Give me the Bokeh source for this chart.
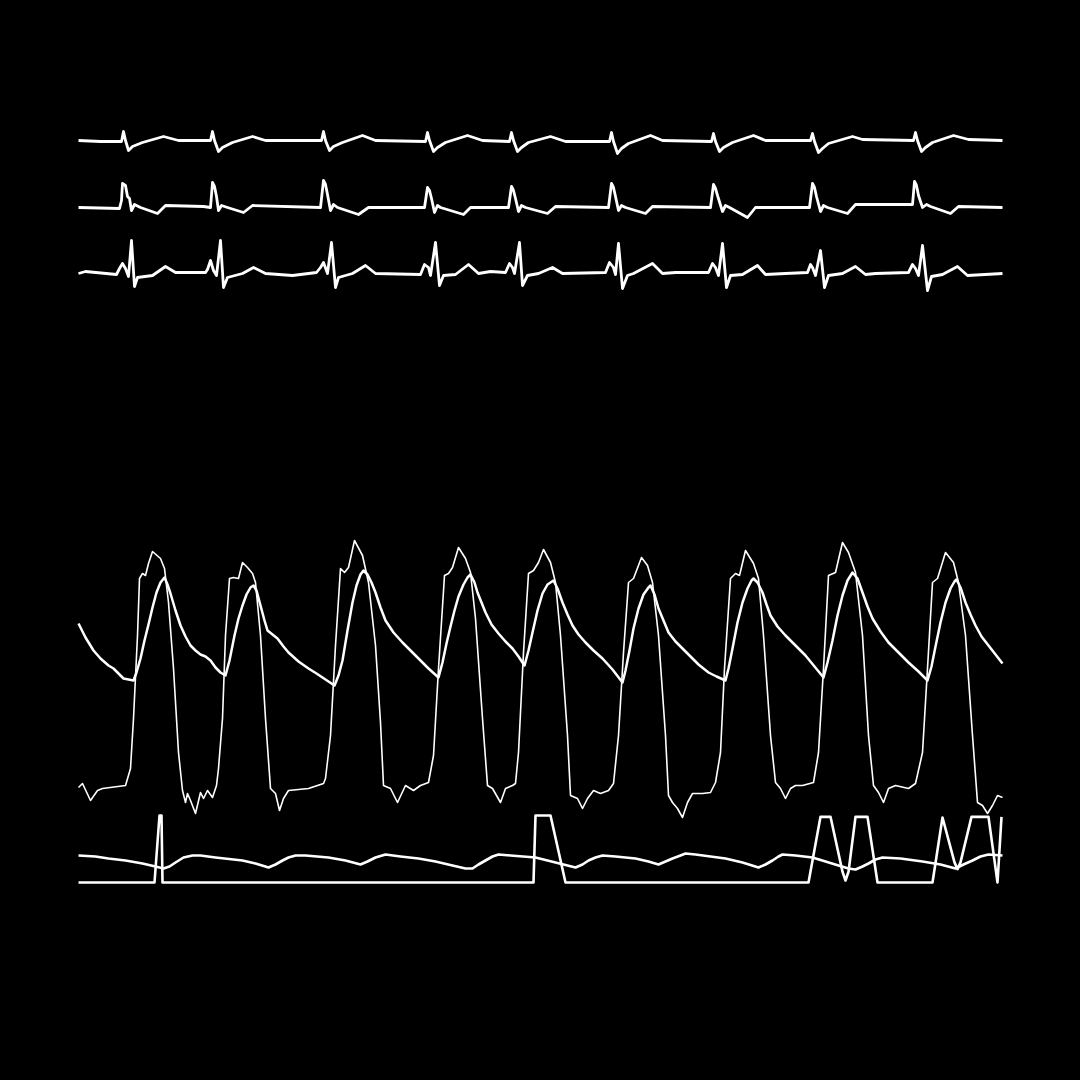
from bokeh.plotting import figure
from bokeh.models import Range1d
from bokeh.embed import file_html
from bokeh.resources import INLINE

# ---------------- data (time in s, values in signal units) ----------------
ecg1_t = [0.00, 0.22, 0.43, 0.45, 0.47, 0.50, 0.54, 0.64, 0.85, 1.00, 1.32, 1.34, 1.36, 1.40, 1.44, 1.54, 1.74, 1.87,
          2.43, 2.45, 2.47, 2.51, 2.55, 2.64, 2.84, 2.97, 3.47, 3.49, 3.51, 3.55, 3.59, 3.67, 3.89, 4.04,
          4.31, 4.33, 4.35, 4.39, 4.43, 4.50, 4.72, 4.87, 5.31, 5.33, 5.35, 5.39, 5.43, 5.50, 5.72, 5.84,
          6.33, 6.35, 6.37, 6.41, 6.45, 6.54, 6.75, 6.87, 7.32, 7.34, 7.36, 7.40, 7.44, 7.50, 7.74, 7.84,
          8.35, 8.37, 8.39, 8.43, 8.47, 8.54, 8.75, 8.90, 9.24]
ecg1_mv = [0.00, -0.02, -0.02, 0.18, 0.00, -0.20, -0.12, -0.04, 0.08, 0.00, 0.00, 0.18, 0.00, -0.22, -0.14, -0.04, 0.08, 0.00,
           0.00, 0.18, 0.00, -0.20, -0.12, -0.04, 0.10, 0.00, -0.02, 0.16, 0.00, -0.22, -0.14, -0.04, 0.10, 0.00,
           -0.02, 0.16, 0.00, -0.22, -0.14, -0.04, 0.08, -0.02, -0.02, 0.16, -0.02, -0.26, -0.16, -0.06, 0.10, 0.00,
           -0.02, 0.14, -0.02, -0.22, -0.14, -0.04, 0.10, 0.00, 0.00, 0.14, -0.02, -0.24, -0.16, -0.06, 0.08, 0.02,
           0.00, 0.16, 0.00, -0.22, -0.14, -0.04, 0.10, 0.02, 0.00]

ecg2_t = [0.00, 0.41, 0.43, 0.44, 0.47, 0.49, 0.51, 0.53, 0.56, 0.62, 0.79, 0.87, 1.25,
          1.32, 1.34, 1.36, 1.38, 1.40, 1.43, 1.49, 1.65, 1.74,
          2.42, 2.45, 2.47, 2.49, 2.52, 2.55, 2.59, 2.80, 2.90,
          3.46, 3.49, 3.51, 3.53, 3.56, 3.59, 3.62, 3.85, 3.92,
          4.30, 4.33, 4.35, 4.37, 4.40, 4.43, 4.47, 4.69, 4.77,
          5.30, 5.33, 5.35, 5.37, 5.40, 5.43, 5.47, 5.67, 5.74,
          6.32, 6.35, 6.37, 6.39, 6.44, 6.47, 6.51, 6.69, 6.77,
          7.31, 7.34, 7.36, 7.38, 7.42, 7.45, 7.49, 7.69, 7.77, 8.30,
          8.34, 8.36, 8.38, 8.40, 8.44, 8.48, 8.52, 8.72, 8.80, 9.24]
ecg2_mv = [0.00, -0.02, 0.14, 0.48, 0.44, 0.22, 0.18, -0.06, 0.06, 0.00, -0.12, 0.04, 0.02,
           0.00, 0.50, 0.42, 0.22, -0.06, 0.04, 0.00, -0.10, 0.04,
           0.00, 0.54, 0.46, 0.26, -0.06, 0.06, 0.00, -0.14, 0.00,
           0.00, 0.40, 0.34, 0.18, -0.10, 0.04, 0.00, -0.14, 0.00,
           0.00, 0.42, 0.34, 0.18, -0.08, 0.04, 0.00, -0.12, 0.02,
           0.00, 0.48, 0.40, 0.22, -0.06, 0.04, 0.00, -0.12, 0.02,
           0.00, 0.46, 0.38, 0.24, -0.08, 0.04, 0.00, -0.20, 0.00,
           0.00, 0.48, 0.40, 0.22, -0.08, 0.04, 0.00, -0.12, 0.06, 0.06,
           0.06, 0.52, 0.44, 0.24, 0.00, 0.06, 0.02, -0.12, 0.02, 0.00]

ecg3_t = [0.00, 0.07, 0.38, 0.41, 0.44, 0.47, 0.50, 0.53, 0.56, 0.59, 0.74, 0.87, 0.97, 1.27,
          1.29, 1.32, 1.35, 1.38, 1.42, 1.45, 1.49, 1.64, 1.75, 1.87, 2.14, 2.38,
          2.42, 2.45, 2.49, 2.53, 2.57, 2.60, 2.74, 2.87, 2.97, 3.42,
          3.46, 3.50, 3.52, 3.57, 3.61, 3.65, 3.77, 3.90, 4.00, 4.12, 4.27,
          4.31, 4.34, 4.36, 4.41, 4.44, 4.49, 4.60, 4.74, 4.84, 5.27,
          5.31, 5.35, 5.37, 5.40, 5.44, 5.49, 5.55, 5.74, 5.84, 5.97, 6.30,
          6.34, 6.37, 6.40, 6.44, 6.48, 6.52, 6.64, 6.79, 6.87, 7.07, 7.29,
          7.32, 7.34, 7.37, 7.42, 7.46, 7.50, 7.64, 7.77, 7.87, 7.97, 8.30,
          8.34, 8.37, 8.40, 8.44, 8.49, 8.53, 8.64, 8.79, 8.89, 9.24]
ecg3_mv = [0.00, 0.04, -0.02, 0.10, 0.20, 0.10, -0.06, 0.66, -0.26, -0.08, -0.04, 0.14, 0.02, 0.02,
           0.08, 0.26, 0.06, -0.04, 0.66, -0.28, -0.08, 0.00, 0.12, 0.00, -0.04, 0.02,
           0.12, 0.22, 0.00, 0.62, -0.28, -0.08, 0.00, 0.16, 0.00, -0.02,
           0.18, 0.12, -0.04, 0.62, -0.24, -0.04, -0.02, 0.18, 0.00, 0.04, 0.02,
           0.20, 0.12, 0.00, 0.62, -0.24, -0.04, 0.00, 0.12, 0.00, 0.02,
           0.22, 0.12, -0.02, 0.60, -0.30, -0.04, 0.00, 0.20, 0.00, 0.02, 0.02,
           0.20, 0.12, -0.04, 0.60, -0.28, -0.04, -0.02, 0.16, -0.02, 0.00, 0.02,
           0.18, 0.12, -0.04, 0.46, -0.28, -0.04, 0.00, 0.14, -0.02, 0.00, 0.02,
           0.18, 0.10, -0.04, 0.56, -0.34, -0.06, -0.02, 0.14, -0.04, 0.00]

aop_t = [0.00, 0.07, 0.15, 0.22, 0.30, 0.35, 0.39, 0.45, 0.50, 0.55,
         0.58, 0.62, 0.66, 0.70, 0.74, 0.78, 0.82, 0.86, 0.89, 0.92, 0.97, 1.02, 1.07, 1.12, 1.17, 1.22, 1.27, 1.32, 1.37, 1.42, 1.47,
         1.51, 1.56, 1.60, 1.64, 1.68, 1.72, 1.75, 1.78, 1.82, 1.86, 1.89, 1.94, 1.99, 2.05, 2.10, 2.20, 2.30, 2.38, 2.44, 2.50, 2.56,
         2.60, 2.64, 2.69, 2.74, 2.78, 2.82, 2.85, 2.89, 2.93, 2.97, 3.02, 3.07, 3.15, 3.24, 3.32, 3.40, 3.50, 3.60,
         3.64, 3.68, 3.72, 3.76, 3.80, 3.85, 3.89, 3.92, 3.96, 3.99, 4.03, 4.07, 4.13, 4.20, 4.27, 4.34, 4.40, 4.46,
         4.50, 4.54, 4.59, 4.64, 4.69, 4.75, 4.79, 4.84, 4.89, 4.94, 5.00, 5.07, 5.15, 5.24, 5.34, 5.44,
         5.47, 5.51, 5.55, 5.60, 5.65, 5.70, 5.72, 5.76, 5.80, 5.85, 5.90, 5.97, 6.04, 6.12, 6.20, 6.30, 6.38, 6.47,
         6.50, 6.54, 6.59, 6.64, 6.69, 6.73, 6.75, 6.79, 6.84, 6.88, 6.92, 6.99, 7.07, 7.17, 7.27, 7.36, 7.45,
         7.49, 7.54, 7.59, 7.64, 7.69, 7.74, 7.79, 7.84, 7.89, 7.94, 8.02, 8.10, 8.20, 8.30, 8.40, 8.49,
         8.53, 8.57, 8.62, 8.67, 8.72, 8.76, 8.78, 8.82, 8.87, 8.92, 8.97, 9.03, 9.10, 9.17, 9.24]
aop_mmhg = [88.5, 81.5, 75.0, 71.0, 67.5, 66.0, 64.0, 61.0, 60.5, 60.0,
            64.0, 71.0, 80.0, 88.0, 96.5, 104.0, 109.0, 111.5, 108.0, 103.5, 95.0, 87.5, 82.0, 77.5, 75.0, 73.0, 72.0, 70.0, 66.5, 64.0, 62.5,
            70.0, 82.5, 91.0, 97.5, 103.0, 106.5, 107.5, 105.0, 97.5, 90.0, 85.0, 83.0, 81.0, 77.0, 74.0, 69.5, 66.0, 63.5, 61.5, 59.5, 57.5,
            62.5, 70.0, 85.0, 99.0, 107.5, 113.0, 115.0, 113.0, 109.0, 104.0, 96.5, 90.0, 84.0, 79.0, 75.0, 71.0, 66.0, 61.5,
            69.0, 78.5, 87.0, 95.0, 102.0, 108.0, 111.5, 113.0, 109.0, 104.0, 99.0, 94.0, 88.0, 83.5, 79.5, 76.0, 72.0, 67.5,
            75.0, 84.0, 95.0, 103.5, 108.0, 110.0, 106.0, 99.0, 93.0, 87.5, 83.0, 79.0, 75.0, 71.0, 65.5, 59.0,
            65.0, 75.0, 86.0, 96.0, 103.0, 106.5, 107.5, 103.0, 96.0, 90.0, 84.0, 79.5, 76.0, 72.0, 68.0, 64.0, 62.0, 60.0,
            66.0, 76.0, 89.0, 99.0, 106.0, 110.0, 111.0, 109.0, 104.0, 98.0, 92.5, 87.0, 82.5, 77.5, 72.5, 67.0, 61.5,
            69.0, 80.0, 92.5, 102.5, 110.0, 114.0, 111.0, 104.0, 97.0, 91.0, 84.5, 79.0, 74.0, 69.0, 64.5, 60.0,
            67.0, 77.0, 89.0, 99.0, 106.0, 109.5, 110.5, 106.5, 99.0, 93.0, 87.5, 82.0, 77.5, 73.0, 68.5]

lvp_t = [0.00, 0.04, 0.12, 0.19, 0.24, 0.47, 0.52, 0.55, 0.59, 0.61, 0.64, 0.67, 0.70, 0.74, 0.82, 0.86, 0.90, 0.95, 1.00,
         1.04, 1.07, 1.09, 1.12, 1.17, 1.22, 1.25, 1.29, 1.34, 1.38,
         1.40, 1.44, 1.47, 1.51, 1.55, 1.60, 1.64, 1.69, 1.74, 1.77, 1.82, 1.87, 1.92, 1.97, 2.01, 2.05, 2.10, 2.30, 2.45,
         2.47, 2.52, 2.57, 2.62, 2.66, 2.70, 2.76, 2.84, 2.90, 2.97, 3.02, 3.05, 3.12, 3.19, 3.27, 3.35, 3.42, 3.50,
         3.55, 3.60, 3.66, 3.70, 3.74, 3.80, 3.87, 3.92, 3.97, 4.04, 4.09, 4.14, 4.22, 4.27, 4.34, 4.37,
         4.40, 4.45, 4.50, 4.55, 4.60, 4.65, 4.72, 4.77, 4.82, 4.89, 4.92, 4.99, 5.04, 5.09, 5.15, 5.22, 5.30, 5.35,
         5.40, 5.45, 5.50, 5.55, 5.63, 5.69, 5.74, 5.80, 5.87, 5.90, 5.94, 5.99, 6.04, 6.09, 6.14, 6.24, 6.32, 6.37,
         6.42, 6.46, 6.52, 6.57, 6.61, 6.67, 6.75, 6.80, 6.85, 6.92, 6.97, 7.02, 7.07, 7.12, 7.17, 7.24, 7.35,
         7.40, 7.45, 7.50, 7.57, 7.64, 7.70, 7.77, 7.84, 7.90, 7.95, 8.00, 8.05, 8.10, 8.17, 8.30, 8.37,
         8.44, 8.49, 8.54, 8.59, 8.67, 8.75, 8.80, 8.87, 8.94, 8.99, 9.04, 9.09, 9.14, 9.19, 9.24]
lvp_mmhg = [6.5, 8.5, 0.0, 5.0, 6.0, 7.5, 16.0, 41.0, 82.5, 111.0, 113.5, 112.5, 118.5, 124.5, 121.0, 116.0, 99.0, 66.0, 24.0,
            5.0, -1.0, 3.5, 0.0, -6.5, 4.0, 1.0, 5.0, 1.5, 7.5,
            16.0, 41.0, 82.5, 111.0, 111.5, 111.0, 119.0, 116.5, 113.5, 109.0, 82.5, 41.0, 6.0, 3.5, -5.0, 1.0, 5.0, 6.0, 8.5,
            11.0, 32.5, 77.5, 116.0, 114.0, 116.5, 130.0, 122.5, 109.0, 77.5, 39.0, 7.5, 6.0, -1.0, 7.5, 5.0, 7.5, 9.0,
            22.5, 66.0, 112.5, 113.5, 116.5, 126.5, 121.0, 114.0, 91.0, 41.0, 7.5, 6.0, -1.0, 6.0, 7.5, 8.5,
            24.0, 74.0, 113.5, 115.0, 119.0, 125.5, 119.0, 109.0, 82.5, 32.5, 2.5, 1.0, -4.0, 1.0, 5.0, 3.5, 5.0, 8.5,
            32.5, 74.0, 109.0, 111.0, 121.5, 117.5, 109.0, 82.5, 32.5, 2.5, -1.0, -4.0, -8.5, -1.0, 3.5, 3.5, 4.0, 9.0,
            24.0, 66.0, 111.0, 113.5, 112.5, 125.0, 118.5, 111.0, 82.5, 32.5, 9.0, 6.0, 1.0, 6.0, 7.5, 7.5, 9.0,
            24.0, 66.0, 112.5, 114.0, 129.0, 124.0, 114.0, 82.5, 32.5, 7.5, 4.0, -1.0, 6.0, 7.5, 6.0, 8.5,
            24.0, 66.0, 109.0, 111.0, 124.0, 119.0, 109.0, 82.5, 32.5, -1.0, -2.5, -6.5, -2.5, 2.5, 1.5]

resp_t = [0.00, 0.17, 0.30, 0.47, 0.64, 0.77, 0.85, 0.91, 0.97, 1.05, 1.14, 1.22, 1.37, 1.64, 1.77, 1.90, 1.97, 2.04,
          2.10, 2.17, 2.27, 2.50, 2.67, 2.82, 2.89, 2.97, 3.07, 3.22, 3.40, 3.57, 3.74, 3.87, 3.94, 4.00, 4.07, 4.14,
          4.20, 4.32, 4.57, 4.77, 4.97, 5.04, 5.10, 5.17, 5.24, 5.37, 5.57, 5.70, 5.80, 5.87, 5.94, 6.02, 6.07, 6.17,
          6.32, 6.47, 6.64, 6.80, 6.87, 6.94, 7.00, 7.04, 7.17, 7.34, 7.47, 7.60, 7.70, 7.77, 7.84, 7.90, 7.97, 8.04,
          8.22, 8.44, 8.62, 8.77, 8.85, 8.94, 9.02, 9.10, 9.24]
resp_au = [1.5, 1.4, 1.2, 1.0, 0.7, 0.4, 0.2, 0.4, 0.8, 1.3, 1.5, 1.5, 1.3, 1.0, 0.7, 0.3, 0.6, 1.0,
           1.3, 1.5, 1.5, 1.3, 1.0, 0.6, 0.9, 1.3, 1.6, 1.4, 1.2, 0.9, 0.5, 0.2, 0.2, 0.6, 1.0, 1.4,
           1.6, 1.5, 1.3, 0.8, 0.3, 0.6, 1.0, 1.3, 1.5, 1.4, 1.2, 0.9, 0.6, 0.9, 1.2, 1.5, 1.7, 1.6,
           1.4, 1.2, 0.8, 0.3, 0.6, 1.0, 1.4, 1.6, 1.5, 1.3, 0.9, 0.5, 0.2, 0.1, 0.4, 0.7, 1.1, 1.3,
           1.2, 0.9, 0.6, 0.2, 0.6, 1.0, 1.4, 1.6, 1.5]

stim_t = [0.00, 0.76, 0.81, 0.83, 0.84, 4.55, 4.57, 4.72, 4.87, 7.30, 7.42, 7.52, 7.64, 7.67, 7.70, 7.77, 7.89, 7.99,
          8.54, 8.64, 8.76, 8.79, 8.82, 8.93, 9.10, 9.19, 9.23]
stim_v = [0.0, 0.0, 5.0, 5.0, 0.0, 0.0, 5.0, 5.0, 0.0, 0.0, 4.9, 4.9, 0.8, 0.15, 0.8, 4.9, 4.9, 0.0,
          0.0, 4.85, 1.5, 1.0, 1.5, 4.9, 4.9, 0.0, 4.9]

# ---------------- layout ----------------
W = H = 1064
PAGE0 = 0


def strip(base_px, px_per_unit):
    # y range so that value 0 sits at page row base_px
    return Range1d(start=(base_px - PAGE0 - H) / px_per_unit, end=(base_px - PAGE0) / px_per_unit)


p = figure(width=W, height=H, output_backend="svg", toolbar_location=None,
           x_range=Range1d((PAGE0 - 78) / 100.0, (PAGE0 + W - 78) / 100.0), y_range=strip(800, 2.0),
           x_axis_location=None, y_axis_location=None, min_border=0,
           background_fill_color="#000000", border_fill_color="#000000", outline_line_color=None)
p.grid.visible = False

p.extra_y_ranges = {
    "ecg1": strip(140, 50.0),
    "ecg2": strip(207, 50.0),
    "ecg3": strip(273, 50.0),
    "resp": strip(870, 10.0),
    "stim": strip(882, 13.4),
}

col = "#ffffff"
p.line(ecg1_t, ecg1_mv, y_range_name="ecg1", line_color=col, line_width=2.8, line_join="round")
p.line(ecg2_t, ecg2_mv, y_range_name="ecg2", line_color=col, line_width=2.8, line_join="round")
p.line(ecg3_t, ecg3_mv, y_range_name="ecg3", line_color=col, line_width=2.8, line_join="round")
p.line(aop_t, aop_mmhg, line_color=col, line_width=2.5, line_join="round")
p.line(lvp_t, lvp_mmhg, line_color=col, line_width=1.6, line_join="round")
p.line(resp_t, resp_au, y_range_name="resp", line_color=col, line_width=2.6, line_join="round")
p.line(stim_t, stim_v, y_range_name="stim", line_color=col, line_width=2.6, line_join="round")

html = file_html(p, INLINE)
html = html.replace("</head>", "<style>html, body { background: #000000; }</style></head>", 1)
open("out.html", "w").write(html)
